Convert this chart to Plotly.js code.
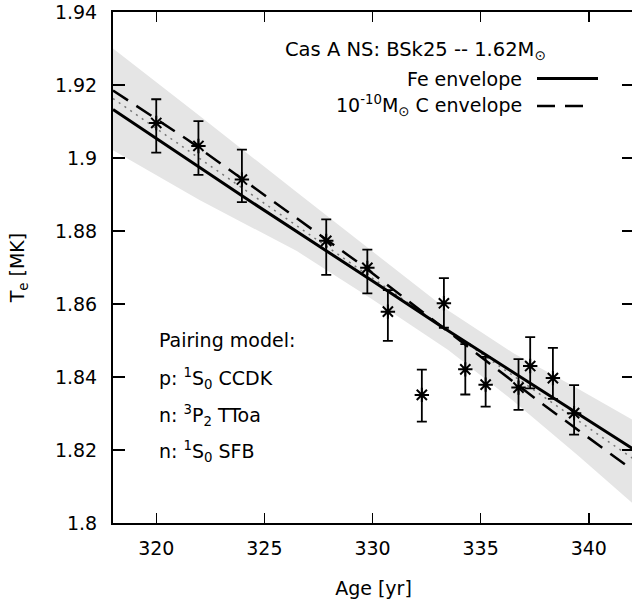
<!DOCTYPE html>
<html>
<head>
<meta charset="utf-8">
<script src="https://cdn.plot.ly/plotly-3.0.1.min.js"></script>
<style>
html, body { margin:0; padding:0; background:#fff; overflow:hidden; width:632px; height:612px; }
#chart { width:636px; height:612px; }
</style>
</head>
<body>
<div id="chart"></div>
<script>
// Observed Cas A NS data (age in yr, Te in MK) with asymmetric errors
const age   = [320.0, 321.95, 323.96, 327.86, 329.76, 330.71, 332.28, 333.30, 334.29, 335.23, 336.75, 337.29, 338.34, 339.32];
const te    = [1.9096, 1.9033, 1.8941, 1.8773, 1.8699, 1.8579, 1.8351, 1.8602, 1.8421, 1.8379, 1.8371, 1.8430, 1.8397, 1.8301];
const teHi  = [1.9161, 1.9101, 1.9023, 1.8832, 1.8749, 1.8638, 1.8420, 1.8671, 1.8490, 1.8455, 1.8449, 1.8509, 1.8480, 1.8378];
const teLo  = [1.9015, 1.8954, 1.8879, 1.8680, 1.8629, 1.8499, 1.8278, 1.8535, 1.8352, 1.8319, 1.8310, 1.8369, 1.8340, 1.8242];

// Cooling curves
const feAge = [318, 324, 330, 333.1, 342.1];
const feTe  = [1.9133, 1.8895, 1.8663, 1.8542, 1.8201];
const cAge  = [318, 321.5, 329.4, 337.7, 342.1];
const cTe   = [1.9185, 1.9048, 1.8711, 1.8333, 1.8142];

// Linear fit (dotted) and its confidence band
const fitAge = [318, 330, 342.1];
const fitTe  = [1.9163, 1.8671, 1.8174];
const bandAge = [318, 322, 326.5, 330, 333.5, 336.5, 339.5, 342.1];
const bandHi  = [1.9300, 1.9116, 1.8906, 1.8745, 1.8582, 1.8466, 1.8368, 1.8280];
const bandLo  = [1.9021, 1.8885, 1.8745, 1.8612, 1.8474, 1.8335, 1.8185, 1.8050];

// Axis ticks
const xTicks = [320, 325, 330, 335, 340];
const yTicks = [1.8, 1.82, 1.84, 1.86, 1.88, 1.9, 1.92, 1.94];
const yTickText = ['1.8', '1.82', '1.84', '1.86', '1.88', '1.9', '1.92', '1.94'];

const FONT = 'DejaVu Sans, Verdana, sans-serif';
const FS = 19;

const errPlus  = te.map((v, i) => teHi[i] - v);
const errMinus = te.map((v, i) => v - teLo[i]);

const traces = [
  { x: bandAge, y: bandHi, type: 'scatter', mode: 'lines', line: {width: 0, color: 'rgba(0,0,0,0)'}, hoverinfo: 'skip', showlegend: false },
  { x: bandAge, y: bandLo, type: 'scatter', mode: 'lines', line: {width: 0, color: 'rgba(0,0,0,0)'}, fill: 'tonexty', fillcolor: '#e5e5e5', hoverinfo: 'skip', showlegend: false },
  { x: fitAge, y: fitTe, type: 'scatter', mode: 'lines', line: {color: '#777777', width: 1.5, dash: '2px,5px'}, showlegend: false },
  { x: feAge, y: feTe, type: 'scatter', mode: 'lines', line: {color: '#000', width: 3}, showlegend: false },
  { x: cAge, y: cTe, type: 'scatter', mode: 'lines', line: {color: '#000', width: 2.5, dash: '18px,10px'}, showlegend: false },
  { x: age, y: te, type: 'scatter', mode: 'markers',
    marker: {symbol: 'asterisk-open', size: 12, color: '#000', line: {color: '#000', width: 2}},
    error_y: {type: 'data', symmetric: false, array: errPlus, arrayminus: errMinus, color: '#000', thickness: 1.8, width: 5},
    showlegend: false }
];

const W = 636;
const L = 113, R = 634, T = 12, B = 523;
const px = x => (x - L) / (R - L);
const py = y => (B - y) / (B - T);

const annFont = {family: FONT, size: FS, color: '#000'};
const annotations = [
  {xref: 'paper', yref: 'paper', x: px(548), y: py(50), text: 'Cas A NS: BSk25 -- 1.62M<sub>⊙</sub>', showarrow: false, xanchor: 'right', yanchor: 'middle', font: {family: FONT, size: 19.5, color: '#000'}},
  {xref: 'paper', yref: 'paper', x: px(524), y: py(79), text: 'Fe envelope', showarrow: false, xanchor: 'right', yanchor: 'middle', font: annFont},
  {xref: 'paper', yref: 'paper', x: px(524), y: py(105.5), text: '10<sup>-10</sup>M<sub>⊙</sub> C envelope', showarrow: false, xanchor: 'right', yanchor: 'middle', font: annFont},
  {xref: 'paper', yref: 'paper', x: px(157), y: py(340), text: 'Pairing model:', showarrow: false, xanchor: 'left', yanchor: 'middle', font: annFont},
  {xref: 'paper', yref: 'paper', x: px(157), y: py(378), text: 'p: <sup>1</sup>S<sub>0</sub> CCDK', showarrow: false, xanchor: 'left', yanchor: 'middle', font: annFont},
  {xref: 'paper', yref: 'paper', x: px(157), y: py(415), text: 'n: <sup>3</sup>P<sub>2</sub> TToa', showarrow: false, xanchor: 'left', yanchor: 'middle', font: annFont},
  {xref: 'paper', yref: 'paper', x: px(157), y: py(451), text: 'n: <sup>1</sup>S<sub>0</sub> SFB', showarrow: false, xanchor: 'left', yanchor: 'middle', font: annFont}
];

const shapes = [
  {type: 'line', xref: 'paper', yref: 'paper', x0: px(537), x1: px(598), y0: py(78.5), y1: py(78.5), line: {color: '#000', width: 3}},
  {type: 'line', xref: 'paper', yref: 'paper', x0: px(537), x1: px(592), y0: py(106), y1: py(106), line: {color: '#000', width: 2.5, dash: '18px,10px'}}
];

const layout = {
  width: W, height: 612,
  margin: {l: L, r: W - R, t: T, b: 612 - B},
  paper_bgcolor: '#fff', plot_bgcolor: '#fff',
  font: {family: FONT, size: FS, color: '#000'},
  showlegend: false,
  xaxis: {
    range: [318, 342.09], tickvals: xTicks, ticktext: xTicks.map(String),
    ticks: 'inside', ticklen: 10, tickwidth: 1.5, tickcolor: '#000',
    showline: true, linewidth: 2, linecolor: '#000', mirror: 'ticks',
    showgrid: false, zeroline: false, ticklabelstandoff: 7,
    tickfont: {family: FONT, size: FS},
    title: {text: 'Age [yr]', font: {family: FONT, size: FS}, standoff: 24}
  },
  yaxis: {
    range: [1.8, 1.94], tickvals: yTicks, ticktext: yTickText,
    ticks: 'inside', ticklen: 12, tickwidth: 1.5, tickcolor: '#000',
    showline: true, linewidth: 2, linecolor: '#000', mirror: 'ticks',
    showgrid: false, zeroline: false, ticklabelstandoff: 10,
    tickfont: {family: FONT, size: FS},
    title: {text: 'T<sub>e</sub> [MK]', font: {family: FONT, size: FS}, standoff: 25}
  },
  annotations: annotations,
  shapes: shapes
};

Plotly.newPlot('chart', traces, layout, {displayModeBar: false, staticPlot: true});
</script>
</body>
</html>
